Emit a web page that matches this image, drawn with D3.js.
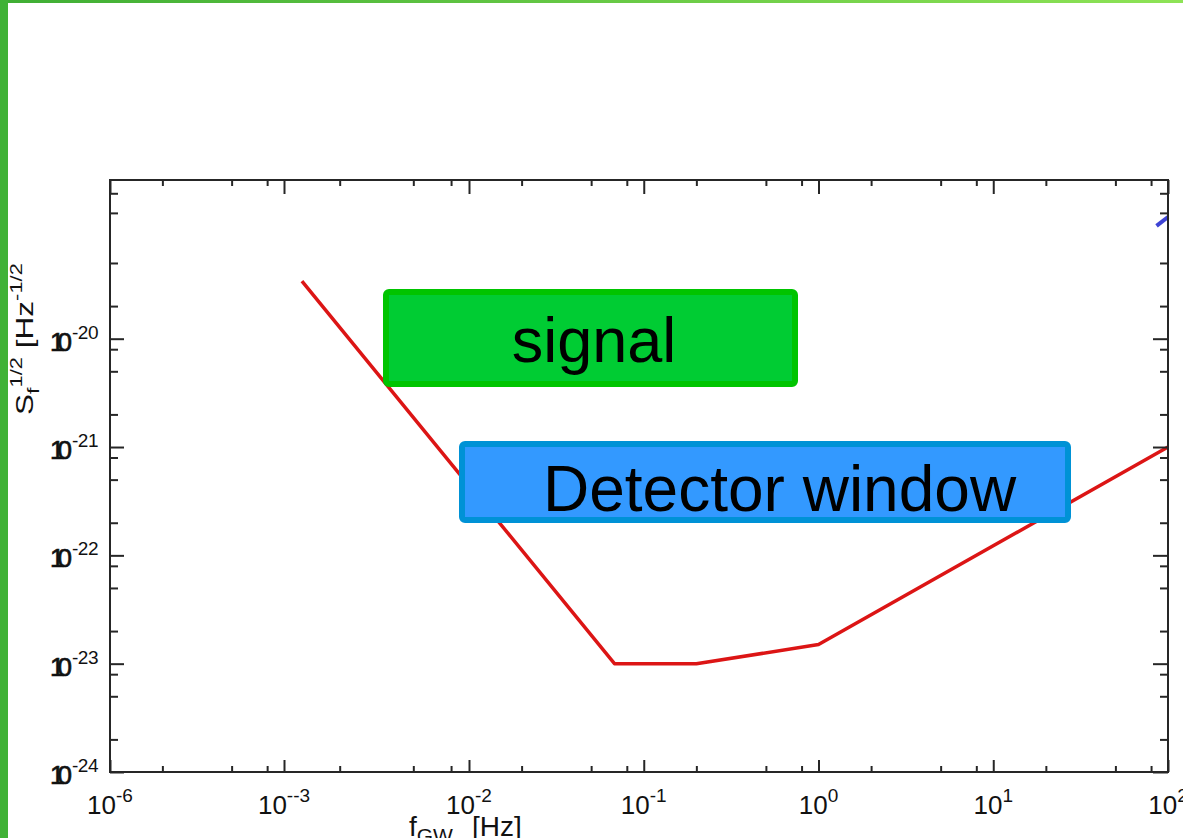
<!DOCTYPE html>
<html>
<head>
<meta charset="utf-8">
<script src="https://cdn.jsdelivr.net/npm/d3@7"></script>
<style>
  html, body { margin: 0; padding: 0; background: #ffffff; }
  svg { display: block; }
  text { font-family: "Liberation Sans", Arial, sans-serif; }
</style>
</head>
<body>
<svg id="chart" width="1183" height="838"></svg>
<script>
// ---------------- data ----------------
// detector sensitivity curve (frequency in Hz, amplitude spectral density)
const noiseFreq  = [1.25e-3, 0.068, 0.2, 1.0, 100];
const noiseValue = [3.4e-20, 1.0e-23, 1.0e-23, 1.5e-23, 1.0e-21];
// small fragment of a second (blue) curve at the top right corner
const blueFreq  = [86, 100];
const blueValue = [1.1e-19, 1.33e-19];

// axis ticks
const xMajorTicks = [1e-4, 1e-3, 1e-2, 1e-1, 1, 10, 100];
const xTickExponents = ["-6", "--3", "-2", "-1", "0", "1", "2"];
const xMinorMultipliers = [2, 5, 8];
const yMajorTicks = [1e-24, 1e-23, 1e-22, 1e-21, 1e-20];
const yTickExponents = ["-24", "-23", "-22", "-21", "-20"];
const yMinorTicks = [2e-24, 5e-24, 8e-24, 2e-23, 5e-23, 8e-23, 2e-22, 5e-22, 8e-22,
                     2e-21, 5e-21, 8e-21, 2e-20, 5e-20, 1.45e-19, 2.2e-19];

// annotation labels
const signalLabel = "signal";
const detectorLabel = "Detector window";

// ---------------- layout ----------------
const W = 1183, H = 838;
const pLeft = 110, pRight = 1168, pTop = 180, pBottom = 772;

const svg = d3.select("#chart");

const x = d3.scaleLog()
  .domain([1e-4, 1e-3, 1e-2, 1e2])
  .range([pLeft, 284, 469, pRight]);
const y = d3.scaleLog()
  .domain([1e-24, Math.pow(10, -18.535)])
  .range([pBottom, pTop]);

const xMinorTicks = [];
xMajorTicks.slice(0, -1).forEach(d => xMinorMultipliers.forEach(m => xMinorTicks.push(d * m)));

// ---------------- plot area ----------------
svg.append("rect").attr("x", 0).attr("y", 0).attr("width", W).attr("height", H).attr("fill", "#ffffff");

// curves
const line = d3.line().x(d => x(d[0])).y(d => y(d[1]));
svg.append("path")
  .datum(noiseFreq.map((f, i) => [f, noiseValue[i]]))
  .attr("d", line)
  .attr("fill", "none")
  .attr("stroke", "#dc1515")
  .attr("stroke-width", 3.5)
  .attr("stroke-linejoin", "round");
svg.append("path")
  .datum(blueFreq.map((f, i) => [f, blueValue[i]]))
  .attr("d", line)
  .attr("fill", "none")
  .attr("stroke", "#1c22cc")
  .attr("stroke-width", 4)
  .attr("opacity", 0.85);

// axes (ticks inward)
const axisColor = "#262626";
function styleAxis(g) {
  g.select(".domain").remove();
  g.selectAll(".tick line").attr("stroke", axisColor).attr("stroke-width", 2);
  g.selectAll(".tick text").remove();
}
svg.append("g").attr("transform", `translate(0,${pBottom})`)
  .call(d3.axisBottom(x).tickValues(xMajorTicks).tickSize(-12).tickFormat("")).call(styleAxis);
svg.append("g").attr("transform", `translate(0,${pBottom})`)
  .call(d3.axisBottom(x).tickValues(xMinorTicks).tickSize(-6).tickFormat("")).call(styleAxis);
svg.append("g").attr("transform", `translate(0,${pTop})`)
  .call(d3.axisTop(x).tickValues(xMajorTicks).tickSize(-14).tickFormat("")).call(styleAxis);
svg.append("g").attr("transform", `translate(0,${pTop})`)
  .call(d3.axisTop(x).tickValues(xMinorTicks).tickSize(-6).tickFormat("")).call(styleAxis);
svg.append("g").attr("transform", `translate(${pLeft},0)`)
  .call(d3.axisLeft(y).tickValues(yMajorTicks).tickSize(-14).tickFormat("")).call(styleAxis);
svg.append("g").attr("transform", `translate(${pLeft},0)`)
  .call(d3.axisLeft(y).tickValues(yMinorTicks).tickSize(-8).tickFormat("")).call(styleAxis);
svg.append("g").attr("transform", `translate(${pRight},0)`)
  .call(d3.axisRight(y).tickValues(yMajorTicks).tickSize(-15).tickFormat("")).call(styleAxis);
svg.append("g").attr("transform", `translate(${pRight},0)`)
  .call(d3.axisRight(y).tickValues(yMinorTicks).tickSize(-8).tickFormat("")).call(styleAxis);

// frame
svg.append("rect")
  .attr("x", pLeft).attr("y", pTop)
  .attr("width", pRight - pLeft).attr("height", pBottom - pTop)
  .attr("fill", "none").attr("stroke", axisColor).attr("stroke-width", 2);

// x tick labels
xMajorTicks.forEach((v, i) => {
  const t = svg.append("text")
    .attr("x", x(v)).attr("y", 814)
    .attr("text-anchor", "middle")
    .attr("fill", "#111");
  t.append("tspan").attr("font-size", 26).text("10");
  t.append("tspan").attr("font-size", 19).attr("dy", -12).text(xTickExponents[i]);
});

// y tick labels
yMajorTicks.forEach((v, i) => {
  const t = svg.append("text")
    .attr("x", 98).attr("y", y(v) + 12)
    .attr("text-anchor", "end")
    .attr("fill", "#111");
  t.append("tspan").attr("font-size", 26).attr("letter-spacing", -7)
    .attr("stroke", "#111").attr("stroke-width", 0.7).text("10");
  t.append("tspan").attr("font-size", 19).attr("dy", -12).attr("dx", 7).attr("letter-spacing", -0.5).text(yTickExponents[i]);
});

// x axis title
const xt = svg.append("text").attr("x", 409).attr("y", 836).attr("fill", "#111");
xt.append("tspan").attr("font-size", 28).text("f");
xt.append("tspan").attr("font-size", 21).attr("dy", 7).text("GW");
xt.append("tspan").attr("font-size", 28).attr("dy", -7).attr("dx", 19).text("[Hz]");

// y axis title (rotated)
const yt = svg.append("text").attr("fill", "#111");
yt.append("tspan").attr("font-size", 23).text("S");
yt.append("tspan").attr("font-size", 17).attr("dy", 6).text("f");
yt.append("tspan").attr("font-size", 16).attr("dy", -17).text("1/2");
yt.append("tspan").attr("font-size", 23).attr("dy", 11).text(" [Hz");
yt.append("tspan").attr("font-size", 16).attr("dy", -11).text("-1/2");
const natural = yt.node().getComputedTextLength();
const sx = 152 / natural;
yt.attr("transform", `translate(33,415) rotate(-90) scale(${sx},1)`);

// ---------------- annotation boxes ----------------
svg.append("rect")
  .attr("x", 386).attr("y", 292).attr("width", 409).attr("height", 92)
  .attr("rx", 3)
  .attr("fill", "#00cc33").attr("stroke", "#00c400").attr("stroke-width", 6);
svg.append("text")
  .attr("x", 594).attr("y", 362).attr("text-anchor", "middle")
  .attr("font-size", 63).attr("fill", "#000").text(signalLabel);

svg.append("rect")
  .attr("x", 462).attr("y", 444).attr("width", 606).attr("height", 76)
  .attr("rx", 3)
  .attr("fill", "#3399ff").attr("stroke", "#0092d6").attr("stroke-width", 6);
svg.append("text")
  .attr("x", 543).attr("y", 511)
  .attr("font-size", 64).attr("fill", "#000").text(detectorLabel);

// ---------------- slide border ----------------
const defs = svg.append("defs");
const grad = defs.append("linearGradient").attr("id", "topbar").attr("x1", 0).attr("x2", 1).attr("y1", 0).attr("y2", 0);
grad.append("stop").attr("offset", "0%").attr("stop-color", "#3fae34");
grad.append("stop").attr("offset", "100%").attr("stop-color", "#8ee356");
svg.append("rect").attr("x", 0).attr("y", 0).attr("width", W).attr("height", 3).attr("fill", "url(#topbar)");
svg.append("rect").attr("x", 0).attr("y", 0).attr("width", 8).attr("height", H).attr("fill", "#40b236");
</script>
</body>
</html>
